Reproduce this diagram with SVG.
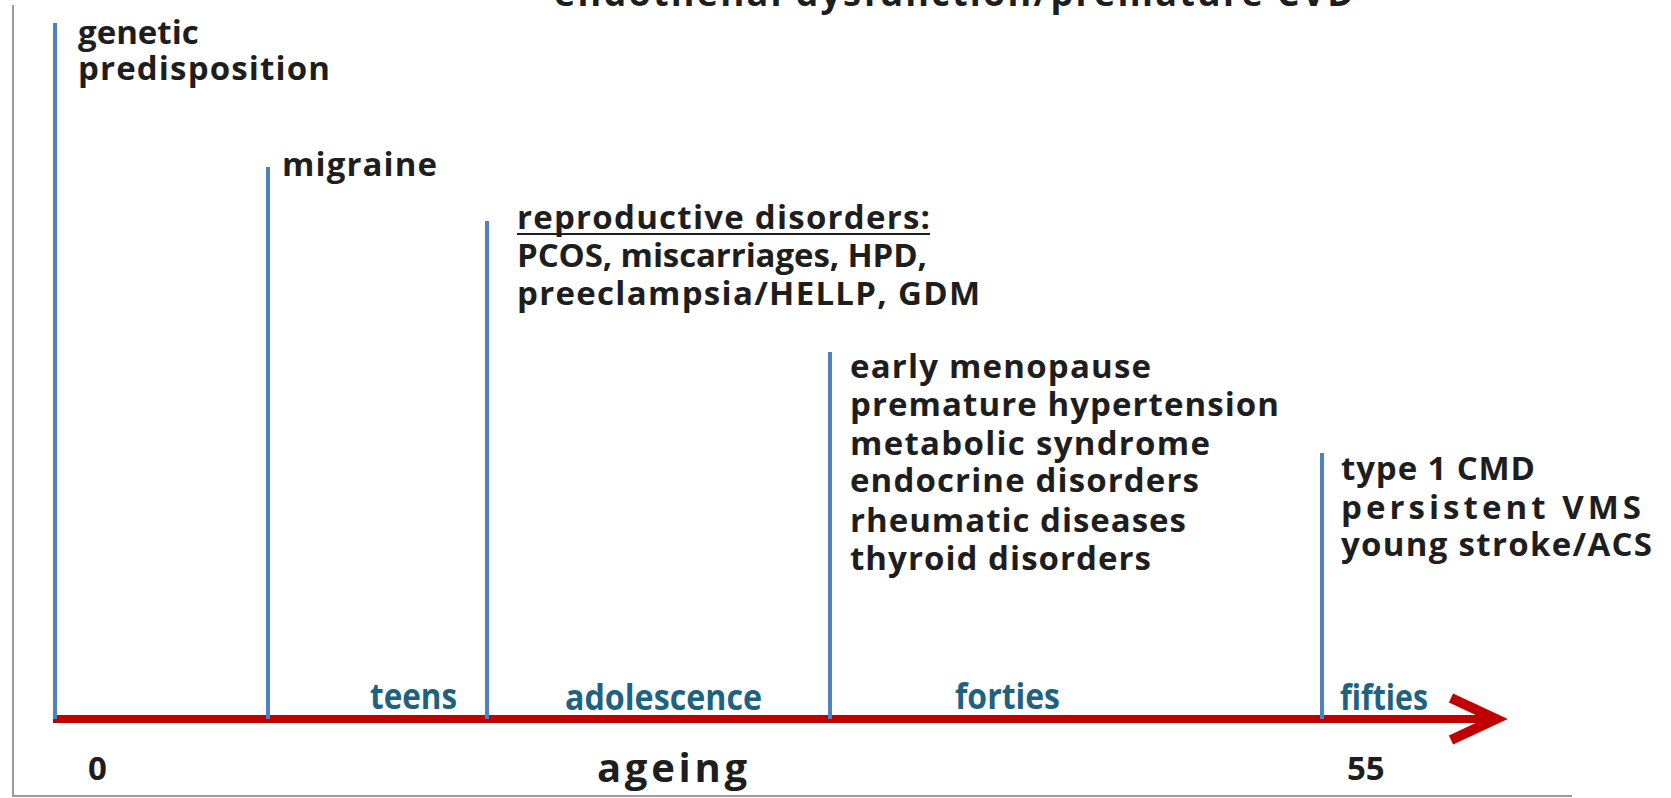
<svg xmlns="http://www.w3.org/2000/svg" width="1671" height="798" viewBox="0 0 1671 798">
<style>
.t{font-family:"Open Sans","Liberation Sans",sans-serif;font-weight:700;font-size:33px;fill:#1e1e1e}
.lab{font-family:"Open Sans","Liberation Sans",sans-serif;font-weight:700;font-size:35px;fill:#1d6280}
.ev{stroke:#4f81bd;stroke-width:4;fill:none}
.frame{stroke:#9a9a9a;stroke-width:2;fill:none}
</style>
<rect width="1671" height="798" fill="#ffffff"/>
<g id="frame">
<line class="frame" x1="13" y1="5" x2="13" y2="797"/>
<line class="frame" x1="13" y1="796" x2="1572" y2="796"/>
</g>
<g id="title">
<text class="t" x="554" y="6" style="font-size:36px" textLength="800">endothelial dysfunction/premature CVD</text>
</g>
<g id="connectors">
<line x1="53" y1="719" x2="1492" y2="719" stroke="#c00000" stroke-width="8"/>
<polyline points="1451,698 1496,719 1451,740" fill="none" stroke="#c00000" stroke-width="10" stroke-linejoin="miter"/>
</g>
<g id="event-genetic">
<line class="ev" x1="55" y1="23" x2="55" y2="719"/>
<text class="t" x="78" y="44">genetic</text>
<text class="t" x="78" y="80" textLength="252">predisposition</text>
</g>
<g id="event-migraine">
<line class="ev" x1="268" y1="167" x2="268" y2="719"/>
<text class="t" x="282" y="176" textLength="155">migraine</text>
</g>
<g id="event-reproductive">
<line class="ev" x1="487" y1="221" x2="487" y2="719"/>
<text class="t" x="517" y="229" textLength="413">reproductive disorders:</text>
<line x1="517" y1="234" x2="930" y2="234" stroke="#1e1e1e" stroke-width="2"/>
<text class="t" x="517" y="267" textLength="410">PCOS, miscarriages, HPD,</text>
<text class="t" x="517" y="305" textLength="463">preeclampsia/HELLP, GDM</text>
</g>
<g id="event-forties">
<line class="ev" x1="830" y1="352" x2="830" y2="719"/>
<text class="t" x="850" y="378" textLength="301">early menopause</text>
<text class="t" x="850" y="416" textLength="429">premature hypertension</text>
<text class="t" x="850" y="455" textLength="360">metabolic syndrome</text>
<text class="t" x="850" y="492" textLength="349">endocrine disorders</text>
<text class="t" x="850" y="532" textLength="336">rheumatic diseases</text>
<text class="t" x="850" y="570" textLength="301">thyroid disorders</text>
</g>
<g id="event-fifties">
<line class="ev" x1="1322" y1="453" x2="1322" y2="719"/>
<text class="t" x="1341" y="480" textLength="194">type 1 CMD</text>
<text class="t" x="1341" y="519" textLength="300">persistent VMS</text>
<text class="t" x="1341" y="556" textLength="311">young stroke/ACS</text>
</g>
<g id="axis-labels">
<text class="lab" x="370" y="709" textLength="87" lengthAdjust="spacingAndGlyphs">teens</text>
<text class="lab" x="565" y="710" textLength="197" lengthAdjust="spacingAndGlyphs">adolescence</text>
<text class="lab" x="955" y="709" textLength="105" lengthAdjust="spacingAndGlyphs">forties</text>
<text class="lab" x="1340" y="710" textLength="88" lengthAdjust="spacingAndGlyphs">fifties</text>
<text class="t" x="88" y="780">0</text>
<text class="t" x="597" y="782" style="font-size:40px" textLength="150">ageing</text>
<text class="t" x="1347" y="780">55</text>
</g>
</svg>
